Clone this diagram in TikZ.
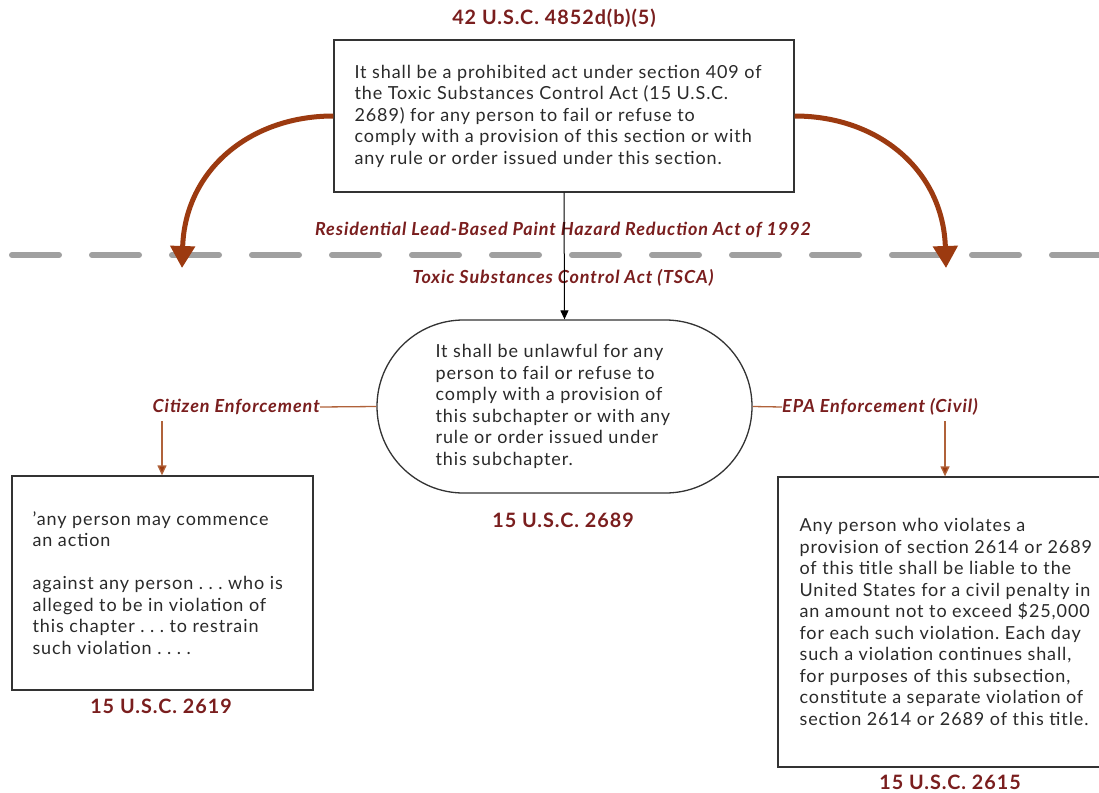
\documentclass[tikz,border=0pt]{standalone}
\usepackage{fontspec}
\setmainfont{Lato}[LetterSpace=5]
\usetikzlibrary{arrows.meta}
\frenchspacing
\definecolor{lblred}{HTML}{7A1E1E}
\definecolor{arrbrown}{HTML}{9C3A10}
\definecolor{thinbrown}{HTML}{B0623A}
\definecolor{boxline}{HTML}{333333}
\definecolor{txtgray}{HTML}{2A2A2A}
\definecolor{dashgray}{HTML}{A0A0A0}
\tikzset{
  boxnode/.style={draw=boxline, line width=1.3pt, inner sep=0pt},
  bodytext/.style={inner sep=0pt, align=left, text=txtgray, font=\fontsize{18}{21.5}\selectfont},
  reflabel/.style={inner sep=0pt, text=lblred, font=\fontsize{19.8}{22}\selectfont\bfseries},
  actlabel/.style={inner sep=0pt, text=lblred, font=\fontsize{18}{20}\selectfont\bfseries\itshape},
  bigarrow/.style={draw=arrbrown, line width=5pt, -{Triangle[width=24pt,length=22pt]}},
  thinarrow/.style={draw=thinbrown, line width=1.3pt, -{Triangle[width=9pt,length=10pt,fill=arrbrown]}},
  thinline/.style={draw=thinbrown, line width=1.3pt},
}
\begin{document}
\begin{tikzpicture}[x=1pt,y=-1pt]
\useasboundingbox[fill=white] (0,0) rectangle (1099,792);

% dashed separator
\coordinate (dl) at (12,255);
\coordinate (dr) at (1099,255);
\draw[dashgray, line width=6pt, line cap=round, dash pattern=on 47pt off 33pt] (dl) -- (dr);

% top box
\node[reflabel] (t1) at (554,18) {42 U.S.C. 4852d(b)(5)};
\node[boxnode, minimum width=460pt, minimum height=152pt] (top) at (564,116) {};
\node[bodytext, anchor=west] (toptext) at ([xshift=21pt]top.west) {It shall be a prohibited act under section 409 of\\the Toxic Substances Control Act (15 U.S.C.\\2689) for any person to fail or refuse to\\comply with a provision of this section or with\\any rule or order issued under this section.};

% act labels
\node[actlabel] (rlb) at (563,230) {Residential Lead-Based Paint Hazard Reduction Act of 1992};
\node[actlabel] (tsca) at (563,278) {Toxic Substances Control Act (TSCA)};

% stadium
\node[boxnode, rounded corners=86.5pt, minimum width=375pt, minimum height=173pt] (mid) at (564.5,406.5) {};
\node[bodytext, anchor=west] (midtext) at ([xshift=59pt]mid.west) {It shall be unlawful for any\\person to fail or refuse to\\comply with a provision of\\this subchapter or with any\\rule or order issued under\\this subchapter.};
\node[reflabel] (t2) at (563,520) {15 U.S.C. 2689};

% vertical arrow
\draw[black, line width=1pt, -{Triangle[width=8pt,length=9pt]}] (top.south) -- (mid.north);

% curved arrows
\coordinate (la) at (182,268);
\coordinate (ra) at (946,268);
\draw[bigarrow] (top.west) .. controls (250,116) and (185,170) .. (la);
\draw[bigarrow] (top.east) .. controls (878,116) and (943,170) .. (ra);

% citizen enforcement
\node[actlabel, anchor=east] (cit) at (320,407) {Citizen Enforcement};
\draw[thinline] (cit.east) -- (mid.west);
\node[boxnode, minimum width=301pt, minimum height=214pt] (lbox) at (162.5,583) {};
\node[bodytext, anchor=west] (ltext) at ([xshift=21pt]lbox.west) {'any person may commence\\an action\\[21.5pt]against any person . . . who is\\alleged to be in violation of\\this chapter . . . to restrain\\such violation . . . .};
\coordinate (cdown) at (162,421);
\draw[thinarrow] (cdown) -- (lbox.north -| cdown);
\node[reflabel] (t3) at (161,706) {15 U.S.C. 2619};

% EPA enforcement
\node[actlabel, anchor=west] (epa) at (782,407) {EPA Enforcement (Civil)};
\draw[thinline] (mid.east) -- (epa.west);
\node[boxnode, minimum width=330pt, minimum height=290pt] (rbox) at (943,622) {};
\node[bodytext, anchor=west] (rtext) at ([xshift=22pt]rbox.west) {Any person who violates a\\provision of section 2614 or 2689\\of this title shall be liable to the\\United States for a civil penalty in\\an amount not to exceed \$25,000\\for each such violation. Each day\\such a violation continues shall,\\for purposes of this subsection,\\constitute a separate violation of\\section 2614 or 2689 of this title.};
\coordinate (edown) at (945,421);
\draw[thinarrow] (edown) -- (rbox.north -| edown);
\node[reflabel] (t4) at (950,782) {15 U.S.C. 2615};
\end{tikzpicture}
\end{document}
